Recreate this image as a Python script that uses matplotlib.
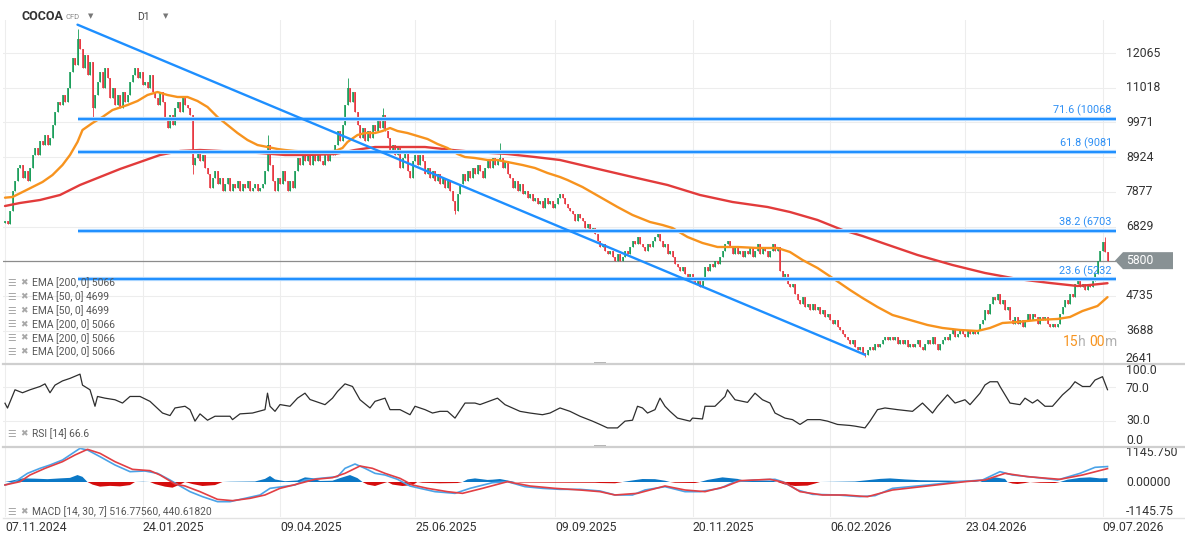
import numpy as np
import matplotlib
matplotlib.use("Agg")
import matplotlib.pyplot as plt
from matplotlib.patches import Polygon, Rectangle
from matplotlib.lines import Line2D
from matplotlib.transforms import IdentityTransform

plt.rcParams["font.family"] = ["Roboto", "DejaVu Sans"]

# daily closes 07.11.2024 -> 09.07.2026
closes = [
    7000, 6900, 7300, 7900, 8200, 8600, 8700, 8300, 8500, 8200,
    8600, 9000, 9200, 9000, 9400, 9300, 9600, 9300, 9500, 9900,
    10300, 10600, 10500, 10800, 10600, 11000, 11500, 11900, 11700, 12500,
    12200, 11600, 12000, 11400, 11800, 10400, 10800, 11200, 11500, 11000,
    11600, 11300, 10700, 11000, 10500, 10800, 10400, 10900, 10600, 10800,
    11200, 11400, 11600, 11300, 11500, 11100, 11200, 11000, 11400, 10900,
    10700, 10500, 10900, 10600, 10100, 9800, 10200, 9900, 10400, 10600,
    10300, 10700, 10500, 10400, 10200, 8700, 8900, 9100, 8800, 9000,
    8600, 8400, 8000, 8300, 8500, 8100, 8300, 7900, 8100, 8300,
    7900, 8100, 8000, 8200, 7900, 8100, 8000, 8200, 7900, 8000,
    8100, 7900, 8000, 8100, 8500, 9300, 8700, 8200, 7900, 8300,
    8100, 8500, 8200, 7900, 8200, 8000, 8500, 8900, 8700, 9100,
    8800, 9000, 8700, 9000, 8800, 9100, 8800, 8700, 9000, 8800,
    9100, 9000, 9300, 9700, 9400, 9900, 10500, 11000, 10600, 10900,
    10300, 9900, 9500, 9800, 9400, 9700, 9500, 9900, 9700, 10000,
    9800, 10200, 9700, 9500, 9100, 9300, 9000, 9200, 8600, 8900,
    9100, 8500, 8300, 8800, 9000, 8700, 9000, 8800, 8400, 8600,
    8300, 8500, 8200, 8400, 8100, 8300, 8000, 8200, 7900, 7600,
    7300, 7800, 8100, 8400, 8200, 8500, 8300, 8600, 8400, 8700,
    8500, 8300, 8600, 8800, 8600, 8900, 8700, 8800, 8900, 8600,
    8800, 8400, 8300, 8000, 8200, 7900, 8100, 7800, 7900, 7700,
    7800, 7600, 7700, 7500, 7600, 7400, 7700, 7500, 7600, 7400,
    7500, 7700, 7800, 7700, 7500, 7400, 7300, 7200, 7000, 7200,
    7100, 7000, 6800, 6900, 6700, 6800, 6600, 6400, 6200, 6300,
    6100, 6000, 6100, 5900, 5800, 6000, 5800, 5900, 6100, 6000,
    6200, 6400, 6300, 6500, 6300, 6200, 6100, 6300, 6200, 6400,
    6500, 6600, 6400, 6200, 6300, 6000, 6100, 5900, 5700, 5600,
    5500, 5600, 5400, 5300, 5400, 5200, 5100, 5200, 5000, 5300,
    5600, 5500, 5700, 5600, 5800, 5700, 5900, 6100, 6300, 6400,
    6200, 6000, 6200, 6000, 6100, 5900, 6100, 6000, 6200, 5900,
    6100, 6300, 6000, 6200, 6100, 5900, 6100, 6300, 6100, 6200,
    5500, 5300, 5400, 5100, 5000, 5100, 4800, 4600, 4500, 4700,
    4400, 4500, 4300, 4500, 4300, 4400, 4200, 4300, 4100, 4200,
    4000, 3900, 4000, 3800, 3700, 3600, 3500, 3400, 3300, 3400,
    3200, 3100, 3200, 3000, 2950, 3100, 3200, 3100, 3300, 3200,
    3300, 3400, 3500, 3400, 3500, 3400, 3500, 3300, 3400, 3300,
    3400, 3200, 3300, 3200, 3300, 3400, 3200, 3100, 3300, 3400,
    3300, 3500, 3300, 3100, 3300, 3400, 3500, 3400, 3600, 3700,
    3500, 3600, 3700, 3600, 3500, 3700, 3600, 3700, 3600, 3700,
    3900, 4000, 4300, 4200, 4500, 4700, 4600, 4800, 4500, 4600,
    4300, 4400, 4000, 3900, 4100, 3900, 4000, 3800, 4000, 4200,
    4000, 4200, 4100, 3900, 4100, 4000, 4100, 3900, 3800, 3900,
    3800, 3900, 4200, 4400, 4600, 4500, 4800, 4700, 5100, 5200,
    5000, 5100, 4900, 5100, 5000, 5200, 5400, 5800, 6100, 6350,
    6050, 5800,
]
first_open = 6950
wick_high = {29: 12800, 105: 9600, 137: 11300, 151: 10400, 198: 9350, 440: 6500}
wick_low = {35: 10100, 75: 8400, 180: 7200, 344: 2900}
last_price = 5800

ema50_idx = [0, 3, 7, 11, 15, 19, 23, 26, 29, 31, 35, 39, 43, 49, 53, 57, 61, 65, 69, 73,
             77, 81, 85, 89, 93, 97, 101, 105, 109, 112, 116, 124, 132, 135, 137, 141, 144, 148, 151, 154,
             157, 161, 165, 169, 173, 177, 181, 184, 188, 193, 197, 201, 207, 212, 217, 222, 225, 231, 238, 245,
             251, 258, 263, 267, 273, 279, 285, 293, 301, 309, 314, 319, 325, 331, 338, 343, 349, 355, 362, 369,
             375, 382, 389, 394, 399, 405, 413, 421, 426, 431, 437, 441]
ema50_val = [7700, 7721, 7871, 8022, 8173, 8384, 8686, 8988, 9380, 9742, 9953, 10134, 10345, 10496, 10617, 10798, 10888, 10798, 10738, 10738,
             10617, 10436, 10134, 9893, 9651, 9440, 9289, 9229, 9169, 9139, 9108, 9078, 9108, 9199, 9380, 9591, 9651, 9651, 9712, 9802,
             9712, 9651, 9561, 9470, 9320, 9199, 9018, 8927, 8897, 8837, 8837, 8776, 8686, 8595, 8445, 8324, 8233, 8022, 7721, 7419,
             7178, 6966, 6876, 6785, 6514, 6333, 6212, 6212, 6182, 6182, 6061, 5820, 5579, 5277, 4915, 4674, 4402, 4160, 4010, 3859,
             3769, 3708, 3678, 3769, 3919, 3949, 4010, 4040, 4100, 4281, 4432, 4699]

ema200_idx = [0, 6, 14, 22, 30, 38, 46, 54, 62, 70, 78, 86, 94, 102, 112, 121, 132, 140, 148, 156,
              168, 179, 188, 201, 212, 222, 239, 251, 265, 278, 291, 305, 314, 325, 335, 343, 351, 365, 379, 392,
              405, 418, 429, 434, 441]
ema200_val = [7449, 7540, 7630, 7781, 8083, 8324, 8565, 8776, 8988, 9108, 9139, 9108, 9078, 9048, 8988, 8988, 9018, 9139, 9229, 9229,
              9229, 9139, 9078, 9018, 8927, 8837, 8535, 8324, 8083, 7781, 7570, 7419, 7268, 7027, 6725, 6544, 6333, 5971, 5669, 5428,
              5247, 5126, 5036, 5066, 5120]

fib_levels = [10068, 9081, 6703, 5232]
fib_labels = ["71.6 (10068", "61.8 (9081", "38.2 (6703", "23.6 (5232"]
fib_start = 29
trend_x = [29, 344]
trend_y = [12920, 2960]

price_ticks = [12065, 11018, 9971, 8924, 7877, 6829, 4735, 3688, 2641]

rsi_idx = [0, 1, 4, 7, 10, 14, 16, 18, 20, 23, 26, 30, 31, 34, 36, 37, 40, 44, 47, 50,
           54, 58, 63, 66, 68, 72, 74, 76, 78, 80, 81, 84, 90, 91, 94, 99, 104, 105, 106, 108,
           110, 114, 117, 120, 122, 128, 131, 133, 136, 139, 142, 146, 148, 152, 154, 158, 162, 164, 168, 171,
           174, 177, 180, 184, 188, 190, 197, 200, 206, 210, 215, 218, 222, 226, 230, 235, 238, 241, 245, 248,
           251, 253, 255, 257, 260, 262, 264, 266, 269, 274, 275, 279, 280, 284, 288, 289, 292, 297, 300, 303,
           306, 308, 312, 315, 318, 321, 326, 329, 333, 338, 340, 344, 346, 349, 352, 357, 363, 367, 371, 373,
           377, 380, 384, 386, 390, 392, 394, 397, 398, 402, 406, 408, 411, 413, 416, 419, 423, 426, 428, 431,
           434, 436, 439, 441]
rsi_val = [50.6, 44.9, 66.5, 63, 66.5, 70.4, 73.5, 63, 72, 77, 80, 85, 72, 66.5, 47, 58.6, 56.6, 54.7, 50.8, 58.6,
           58.6, 52.8, 39, 36, 45, 47, 43, 29.4, 38, 33, 30.5, 35.2, 35.2, 31.2, 38, 39, 43, 62.5, 47, 41,
           49, 47, 56.6, 62.5, 55, 48.9, 56.6, 64.5, 73.5, 70.4, 54.7, 45, 52.8, 56.6, 43, 43, 37, 47, 43, 39,
           41, 41, 33, 50.8, 50.8, 49, 56.6, 48.9, 41, 39, 37, 39, 45, 41, 35.2, 29.4, 25.5, 21.4, 21.4, 29.4,
           30.5, 47, 45, 39, 43, 56.6, 47, 41, 33, 29.4, 33, 32, 47, 47, 58.6, 66.5, 54.7, 51.6, 62.5, 54.7,
           50.8, 39, 33, 31.2, 25.5, 31.2, 31.2, 29.4, 25.5, 24.3, 23.5, 21.4, 29.4, 43, 45, 43, 41, 50.8, 39, 47,
           60.5, 50.8, 54.7, 48.9, 62.5, 72.2, 76, 76, 70.4, 50.8, 48.9, 56.6, 50.8, 54.7, 47, 47, 60.5, 68.3, 76, 70.4,
           70.4, 78, 82, 66.6]

macd_idx = [0, 4, 9, 14, 18, 23, 26, 30, 33, 38, 44, 50, 56, 61, 66, 70, 74, 79, 85, 90,
            96, 102, 106, 111, 116, 120, 126, 133, 136, 140, 144, 148, 152, 157, 162, 166, 172, 180, 186, 195,
            201, 208, 215, 222, 230, 238, 244, 251, 256, 264, 272, 278, 286, 292, 300, 308, 311, 317, 323, 333,
            342, 348, 355, 369, 382, 391, 398, 403, 412, 421, 430, 436, 441]
macd_val = [-116, 13, 336, 530, 660, 854, 1048, 1306, 1242, 983, 660, 401, 427, 336, 78, -155, -375, -569, -763, -763,
            -634, -504, -246, -181, -116, 78, 142, 207, 530, 698, 530, 336, 272, 104, -155, -246, -375, -440, -246, -26,
            13, -181, -246, -285, -285, -349, -504, -504, -310, -181, -375, -375, -246, 13, 78, 104, 13, -310, -478, -504,
            -569, -530, -246, -116, 13, 78, 401, 272, 181, 78, 336, 569, 600]
signal_idx = [0, 6, 10, 16, 23, 28, 33, 38, 44, 51, 58, 62, 68, 72, 78, 85, 91, 98, 104, 110,
              117, 124, 131, 136, 142, 147, 152, 158, 163, 169, 177, 183, 191, 201, 210, 220, 230, 238, 244, 253,
              264, 272, 280, 288, 294, 306, 312, 318, 327, 336, 345, 355, 369, 384, 392, 400, 409, 422, 431, 441]
signal_val = [-116, 13, 272, 530, 789, 1048, 1268, 1112, 789, 491, 440, 272, -78, -155, -375, -673, -724, -634, -504, -246,
              -78, 104, 168, 336, 621, 530, 336, 142, -116, -246, -375, -440, -246, 13, -155, -246, -310, -375, -504, -440,
              -155, -310, -375, -181, 52, 104, -26, -375, -504, -504, -569, -310, -155, 13, 78, 336, 207, 104, 272, 520]
hist_idx = [0, 4, 7, 12, 17, 22, 26, 29, 31, 33, 35, 38, 42, 46, 50, 52, 55, 58, 60, 64,
            67, 70, 72, 75, 79, 84, 87, 90, 100, 104, 106, 108, 112, 117, 120, 123, 126, 131, 134, 138,
            141, 143, 145, 148, 151, 153, 155, 159, 163, 165, 167, 174, 181, 183, 185, 188, 193, 195, 198, 201,
            204, 206, 236, 238, 244, 247, 251, 255, 260, 264, 266, 268, 276, 278, 281, 287, 293, 296, 307, 309,
            312, 316, 321, 324, 326, 333, 340, 344, 350, 354, 360, 366, 372, 380, 387, 390, 392, 396, 400, 401,
            403, 405, 408, 410, 414, 420, 422, 425, 430, 434, 438, 441]
hist_val = [0, 80, 140, 130, 110, 140, 160, 270, 200, 0, -100, -180, -150, -170, -120, 0, 10, 0, -80, -180,
            -220, -100, 0, -80, -155, -120, 0, 10, 20, 120, 233, 100, 30, 60, 180, 150, 40, 50, 150, 270,
            150, 0, -100, -155, -60, 0, -100, -155, -120, 0, -30, -50, -40, 0, 100, 140, 80, 90, 116, 60,
            0, -20, -30, -40, -50, 0, 60, 116, 110, 50, 0, -30, -40, 0, 80, 180, 120, 50, 50, 0,
            -100, -155, -140, -60, 0, 10, 20, 60, 120, 140, 100, 70, 60, 50, 50, 0, 100, 180, 120, 0,
            -60, -78, -40, 0, -30, -40, 0, 90, 160, 180, 140, 150]

tick_pos = [0, 55, 110, 164, 220, 275, 330, 384, 439]
tick_labels = ["07.11.2024", "24.01.2025", "09.04.2025", "25.06.2025", "09.09.2025",
               "20.11.2025", "06.02.2026", "23.04.2026", "09.07.2026"]

ema_legend = ["EMA [200, 0] 5066", "EMA [50, 0] 4699", "EMA [50, 0] 4699",
              "EMA [200, 0] 5066", "EMA [200, 0] 5066", "EMA [200, 0] 5066"]

GREEN = "#169c57"
RED = "#e8333c"
BLUE = "#1e8fff"
ORANGE = "#f7931e"
EMA_RED = "#e23b3b"
GRID = "#ededed"
TXT = "#333333"

W, H = 1185, 543
L, R = 3, 1116
fig = plt.figure(figsize=(W / 100, H / 100), dpi=100)
fig.patch.set_facecolor("white")


def box(top, bottom):
    return [L / W, 1 - bottom / H, (R - L) / W, (bottom - top) / H]


ax = fig.add_axes(box(20, 363))
ax_rsi = fig.add_axes(box(364, 446))
ax_macd = fig.add_axes(box(447, 517))

x_lo, x_hi = (L - 5) / 2.5, (R - 5) / 2.5
for a in (ax, ax_rsi, ax_macd):
    a.set_xlim(x_lo, x_hi)
    for s in a.spines.values():
        s.set_visible(False)
    a.set_yticks([])
    a.tick_params(length=0)
    for t in tick_pos:
        a.axvline(t, color=GRID, lw=0.8, zorder=0)
ax.set_xticks([])
ax_rsi.set_xticks([])

lab_x = (1126 - L) / (R - L)

# ---- main price panel
ax.set_ylim(2712, 13061)
for v in price_ticks:
    ax.axhline(v, color=GRID, lw=0.8, zorder=0)
    ax.text(lab_x, max(v, 2835), str(v), transform=ax.get_yaxis_transform(),
            ha="left", va="center", fontsize=8.8, color=TXT, clip_on=False)

c = np.array(closes, dtype=float)
o = np.r_[first_open, c[:-1]]
hi = np.maximum(o, c)
lo = np.minimum(o, c)
for k, v in wick_high.items():
    hi[k] = v
for k, v in wick_low.items():
    lo[k] = v
idx = np.arange(len(c))
cols = np.where(c >= o, GREEN, RED)
ax.vlines(idx, lo, hi, colors=cols, lw=0.6, zorder=3)
ax.vlines(idx, o, c, colors=cols, lw=1.15, zorder=3)

ax.plot(ema200_idx, ema200_val, color=EMA_RED, lw=1.7, zorder=4, solid_capstyle="round")
ax.plot(ema50_idx, ema50_val, color=ORANGE, lw=1.7, zorder=4, solid_capstyle="round")

for lev, lab in zip(fib_levels, fib_labels):
    ax.hlines(lev, fib_start, x_hi, color="#a8d4ff", lw=3.0, zorder=5)
    ax.hlines(lev, fib_start, x_hi, color=BLUE, lw=1.4, zorder=5)
    ax.annotate(lab, xy=(1, lev), xycoords=("axes fraction", "data"), xytext=(-3, 2),
                textcoords="offset points", ha="right", va="bottom", fontsize=7.8,
                color="#2d8ff5", zorder=6)
ax.plot(trend_x, trend_y, color=BLUE, lw=1.7, zorder=5, solid_capstyle="round")

ax.axhline(last_price, color="#8c8c8c", lw=0.9, zorder=2)

# price tag for the last price
yp = ax.transData.transform((0, last_price))[1]
tag = Polygon([(1115, yp), (1123, yp + 8.5), (1173, yp + 8.5), (1173, yp - 8.5), (1123, yp - 8.5)],
              closed=True, transform=IdentityTransform(), facecolor="#889194", edgecolor="none")
fig.add_artist(tag)
fig.text(1126 / W, yp / H, str(last_price), color="white", ha="left", va="center", fontsize=8.8)

# ---- RSI panel
ax_rsi.set_ylim(0, 97)
for v in (30, 70):
    ax_rsi.axhline(v, color=GRID, lw=0.8, zorder=0)
ax_rsi.plot(rsi_idx, rsi_val, color="#2e2e2e", lw=0.9)
for txt, yy in (("100.0", 370), ("70.0", 388), ("30.0", 420), ("0.0", 440)):
    fig.text(1126 / W, 1 - yy / H, txt, ha="left", va="center", fontsize=8.8, color=TXT)

# ---- MACD panel
ax_macd.set_ylim(-1358, 1358)
hv = np.array(hist_val, dtype=float)
ax_macd.fill_between(hist_idx, hv, 0, where=hv >= 0, interpolate=True, color="#0b78c6", lw=0)
ax_macd.fill_between(hist_idx, hv, 0, where=hv <= 0, interpolate=True, color="#d40d0d", lw=0)
ax_macd.plot(macd_idx, macd_val, color="#4aa3e8", lw=1.2)
ax_macd.plot(signal_idx, signal_val, color="#e23f44", lw=1.2)
for txt, v in (("1145.750", 1145.75), ("0.00000", 0), ("-1145.75", -1145.75)):
    ax_macd.text(lab_x, v, txt, transform=ax_macd.get_yaxis_transform(), ha="left",
                 va="center", fontsize=8.8, color=TXT, clip_on=False)

ax_macd.set_xticks(tick_pos)
ax_macd.set_xticklabels(tick_labels, fontsize=8.8, color=TXT)
for t in ax_macd.get_xticklabels():
    t.set_horizontalalignment("left")
ax_macd.tick_params(axis="x", length=0, pad=3)

# ---- panel separators
for yy, col, lw in ((363.5, "#cfcfcf", 1.6), (446.5, "#cfcfcf", 1.6), (517.5, "#e2e2e2", 1.0)):
    fig.add_artist(Line2D([L / W, 1], [1 - yy / H] * 2, color=col, lw=lw))
for yy in (363.5, 446.5):
    fig.add_artist(Rectangle((594 / W, 1 - (yy + 1.5) / H), 12 / W, 3 / H,
                             transform=fig.transFigure, color="#b5b5b5", lw=0))

# ---- legends


def legend_row(y, text):
    fig.text(7 / W, 1 - y / H, "\u2630", fontsize=7, color="#a8a8a8", va="center",
             family="DejaVu Sans")
    fig.text(20 / W, 1 - y / H, "\u2716", fontsize=6.5, color="#a8a8a8", va="center",
             family="DejaVu Sans")
    fig.text(32 / W, 1 - y / H, text, fontsize=7.4, color="#555555", va="center")


for k, txt in enumerate(ema_legend):
    legend_row(283 + k * 13.8, txt)
legend_row(434, "RSI [14] 66.6")
legend_row(512, "MACD [14, 30, 7] 516.77560, 440.61820")

# ---- header
fig.text(22 / W, 1 - 17 / H, "COCOA", fontsize=9, fontweight="bold", color="#333333", va="center")
fig.text(65 / W, 1 - 17 / H, "CFD", fontsize=5.5, color="#8a8a8a", va="center")
fig.text(88 / W, 1 - 16 / H, "\u25bc", fontsize=5, color="#777777", va="center", family="DejaVu Sans")
fig.text(137 / W, 1 - 17 / H, "D1", fontsize=7.5, color="#444444", va="center")
fig.text(163 / W, 1 - 16 / H, "\u25bc", fontsize=5, color="#777777", va="center", family="DejaVu Sans")

# ---- countdown "15h 00m", pieces placed one after another
renderer = fig.canvas.get_renderer()
cx = 1063
for part, col in (("15", ORANGE), ("h ", "#b0b0b0"), ("00", ORANGE), ("m", "#b0b0b0")):
    t = fig.text(cx / W, 1 - 342 / H, part, fontsize=10, color=col, va="center", ha="left")
    cx = t.get_window_extent(renderer).x1

fig.savefig("out.png", dpi=100, facecolor="white")
